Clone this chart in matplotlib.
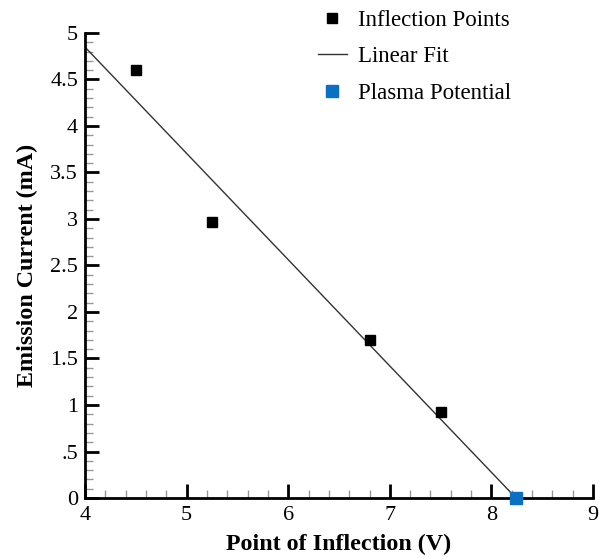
import numpy as np
import matplotlib.pyplot as plt
from matplotlib.ticker import MultipleLocator, FuncFormatter

plt.rcParams['font.family'] = ['Liberation Serif', 'DejaVu Serif']

# inflection points
infl_v = [4.5, 5.25, 6.8, 7.5]
infl_ma = [4.6, 2.97, 1.7, 0.92]

# plasma potential (where the fit crosses zero)
plasma_v = [8.24]
plasma_ma = [0.0]

xticks = [4, 5, 6, 7, 8, 9]
yticks = [0, 0.5, 1, 1.5, 2, 2.5, 3, 3.5, 4, 4.5, 5]

slope, icpt = np.polyfit(infl_v, infl_ma, 1)
fit_x = np.array([4.0, plasma_v[0]])
fit_y = slope * fit_x + icpt

fig = plt.figure(figsize=(5.99, 5.58), dpi=100)
ax = fig.add_axes([0.142, 0.1075, 0.848, 0.8335])

ax.plot(infl_v, infl_ma, 's', color='black', ms=7, label='Inflection Points', zorder=3)
ax.plot(fit_x, fit_y, '-', color='#333333', lw=1.0, label='Linear Fit', zorder=2)
ax.plot(plasma_v, plasma_ma, 's', color='#0a70c4', ms=8.5, label='Plasma Potential',
        zorder=4, clip_on=False)

ax.set_xlim(4, 9)
ax.set_ylim(0, 5)
ax.set_xticks(xticks)
ax.set_yticks(yticks)
ax.xaxis.set_minor_locator(MultipleLocator(0.2))
ax.yaxis.set_minor_locator(MultipleLocator(0.1))


def fmt(v, pos):
    s = ('%g' % v)
    if s.startswith('0.'):
        s = s[1:]
    return s


ax.yaxis.set_major_formatter(FuncFormatter(fmt))

for side in ['top', 'right']:
    ax.spines[side].set_visible(False)
for side in ['left', 'bottom']:
    ax.spines[side].set_linewidth(2)

ax.tick_params(which='major', direction='in', length=10, width=2, labelsize=16,
               color='black')
ax.tick_params(axis='x', which='major', pad=6)
ax.tick_params(axis='y', which='major', pad=5)
ax.tick_params(which='minor', direction='in', length=6, width=1, color='#999999')

ax.set_xlabel('Point of Inflection (V)', fontsize=17.3, fontweight='bold', labelpad=6)
ax.set_ylabel('Emission Current (mA)', fontsize=17.3, fontweight='bold', labelpad=9)

ax.legend(loc='upper left', bbox_to_anchor=(0.519, 0.994), bbox_transform=fig.transFigure,
          frameon=False, fontsize=16.5, handlelength=1.27, handletextpad=0.48,
          labelspacing=0.66, borderpad=0.3, borderaxespad=0, numpoints=1)

fig.savefig('out.png', dpi=100)
